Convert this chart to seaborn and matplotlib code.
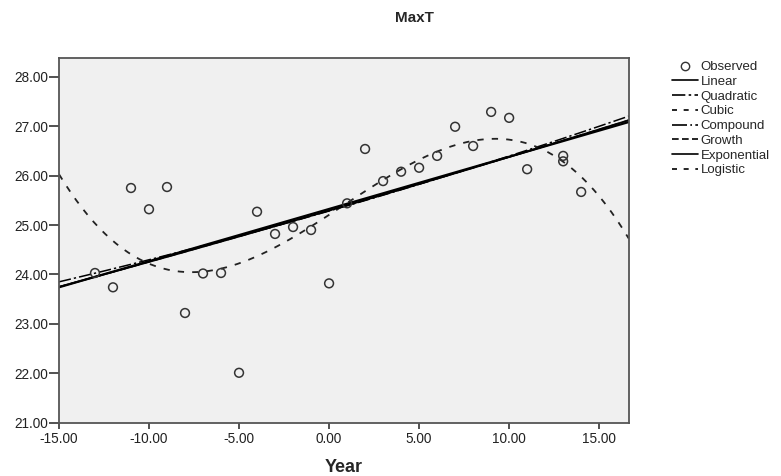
import numpy as np
import pandas as pd
import matplotlib
matplotlib.use("Agg")
import matplotlib.pyplot as plt
import seaborn as sns
from matplotlib.lines import Line2D

years = [-13, -12, -11, -10, -9, -8, -7, -6, -5, -4, -3, -2, -1, 0,
         1, 2, 3, 4, 5, 6, 7, 8, 9, 10, 11, 13, 13, 14]
maxt = [24.03, 23.74, 25.75, 25.32, 25.77, 23.22, 24.02, 24.03, 22.01, 25.27,
        24.82, 24.96, 24.90, 23.82, 25.44, 26.54, 25.89, 26.08, 26.16, 26.40,
        26.99, 26.60, 27.29, 27.17, 26.13, 26.40, 26.29, 25.67]
legend_labels = ["Observed", "Linear", "Quadratic", "Cubic", "Compound",
                 "Growth", "Exponential", "Logistic"]

df = pd.DataFrame({"Year": years, "MaxT": maxt})

sns.set_theme(style="white")
plt.rcParams['font.family'] = ['Liberation Sans', 'DejaVu Sans']

fig = plt.figure(figsize=(7.81, 4.76), dpi=100)
ax = fig.add_axes([0.0755, 0.112, 0.7295, 0.766])
ax.set_facecolor("#f0f0f0")
ax.set_xlim(-15, 16.64)
ax.set_ylim(21, 28.38)

# polynomial fits through seaborn
sns.regplot(data=df, x="Year", y="MaxT", order=1, ci=None, scatter=False,
            truncate=False, ax=ax, line_kws=dict(color="black", lw=1.6, ls="-"))
sns.regplot(data=df, x="Year", y="MaxT", order=2, ci=None, scatter=False,
            truncate=False, ax=ax, line_kws=dict(color="black", lw=1.1, ls=(0, (8, 2, 1.5, 2))))
sns.regplot(data=df, x="Year", y="MaxT", order=3, ci=None, scatter=False,
            truncate=False, ax=ax, line_kws=dict(color="#222222", lw=1.3, ls=(0, (3.5, 4.5))))

# exponential-type fits (compound, growth, exponential, logistic) on log scale
xs = np.linspace(-15, 16.64, 200)
b1, b0 = np.polyfit(np.array(years), np.log(np.array(maxt)), 1)
yexp = np.exp(b0 + b1 * xs)
fitdf = pd.DataFrame({"x": xs, "y": yexp})
sns.lineplot(data=fitdf, x="x", y="y", ax=ax, color="black", lw=1.3, ls="-")
sns.lineplot(data=fitdf, x="x", y="y", ax=ax, color="black", lw=1.0, ls=(0, (6, 3)))

sns.scatterplot(data=df, x="Year", y="MaxT", ax=ax, marker="o", s=40,
                facecolors="none", edgecolor="#333333", linewidth=1.1, zorder=5)

ax.set_xticks([-15, -10, -5, 0, 5, 10, 15])
ax.set_xticklabels(["-15.00", "-10.00", "-5.00", "0.00", "5.00", "10.00", "15.00"])
ax.set_yticks([21, 22, 23, 24, 25, 26, 27, 28])
ax.set_yticklabels([f"{v:.2f}" for v in [21, 22, 23, 24, 25, 26, 27, 28]])
ax.tick_params(axis="both", direction="out", width=1.2, color="#333333",
               labelsize=9.8, labelcolor="#222222", bottom=True, left=True)
ax.tick_params(axis="x", length=4, pad=3)
ax.tick_params(axis="y", length=7, pad=0.5)
for sp in ax.spines.values():
    sp.set_color("#555555")
    sp.set_linewidth(1.3)

ax.set_xlabel("Year", fontsize=13, fontweight="bold", labelpad=9)
ax.set_ylabel("")
fig.text(0.531, 0.962, "MaxT", ha="center", va="center", fontsize=11, fontweight="bold")

handles = [
    Line2D([], [], ls="none", marker="o", mfc="none", mec="#333333", ms=6),
    Line2D([], [], color="black", lw=1.2, ls="-"),
    Line2D([], [], color="black", lw=1.2, ls=(0, (8, 2, 1.5, 2))),
    Line2D([], [], color="black", lw=1.2, ls=(0, (3, 4))),
    Line2D([], [], color="black", lw=1.2, ls=(0, (9, 2, 1, 2))),
    Line2D([], [], color="black", lw=1.2, ls=(0, (4, 2))),
    Line2D([], [], color="black", lw=1.2, ls="-"),
    Line2D([], [], color="black", lw=1.2, ls=(0, (3, 4))),
]
leg = fig.legend(handles, legend_labels, loc="upper left", bbox_to_anchor=(0.861, 0.872),
                 frameon=False, fontsize=9.5, handlelength=1.9, handletextpad=0.25,
                 labelspacing=0.19, borderaxespad=0, borderpad=0)

fig.savefig("out.png", dpi=100)
